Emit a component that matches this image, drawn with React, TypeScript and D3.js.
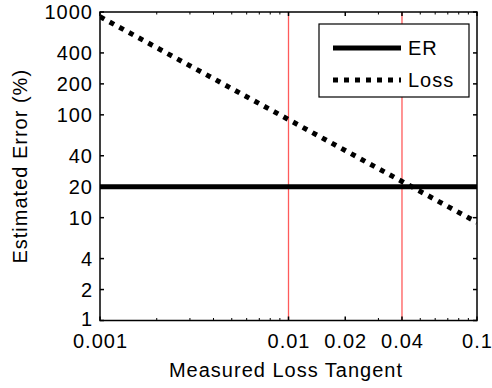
import React from "react";
import * as d3 from "d3";

const lossTangent = [0.001, 0.002, 0.004, 0.01, 0.02, 0.04, 0.1];
const lossError = [900, 450, 225, 90, 45, 22.5, 9];
const erError = [20, 20, 20, 20, 20, 20, 20];
const xTicks = [0.001, 0.01, 0.02, 0.04, 0.1];
const xTickLabels = ["0.001", "0.01", "0.02", "0.04", "0.1"];
const xMinor = [0.002, 0.003, 0.004, 0.005, 0.006, 0.007, 0.008, 0.009, 0.03, 0.05, 0.06, 0.07, 0.08, 0.09];
const yTicks = [1, 2, 4, 10, 20, 40, 100, 200, 400, 1000];
const redLines = [0.01, 0.04];
const legendNames = ["ER", "Loss"];

const W = 492, H = 388;
const L = 100, R = 477, T = 12, B = 320.5;
const font = "'Liberation Sans', Arial, sans-serif";
const ls = 1;

export default function App() {
  const x = d3.scaleLog().domain([0.001, 0.1]).range([L, R]);
  const y = d3.scaleLog().domain([1, 1000]).range([B, T]);
  const line = d3.line<number>().x((_, i) => x(lossTangent[i])).y((d) => y(d));
  const tk = 4;
  const txt = { fontFamily: font, fontSize: 20, letterSpacing: ls } as const;
  return (
    <svg width={W} height={H} style={{ position: "absolute", left: 0, top: 0, background: "#fff" }}>
      <defs>
        <clipPath id="pc"><rect x={L} y={T} width={R - L} height={B - T} /></clipPath>
      </defs>
      {redLines.map((v) => (
        <line key={v} x1={x(v)} x2={x(v)} y1={T} y2={B} stroke="#ff5a5a" strokeWidth={1.3} />
      ))}
      <g clipPath="url(#pc)">
        <path d={line(erError) || ""} fill="none" stroke="#000" strokeWidth={5} />
        <path d={line(lossError) || ""} fill="none" stroke="#000" strokeWidth={5} strokeDasharray="5 6" />
      </g>
      <rect x={L} y={T} width={R - L} height={B - T} fill="none" stroke="#000" strokeWidth={1.5} />
      {xTicks.map((v) => (
        <g key={"xt" + v}>
          <line x1={x(v)} x2={x(v)} y1={B} y2={B - tk} stroke="#000" strokeWidth={1.5} />
          <line x1={x(v)} x2={x(v)} y1={T} y2={T + tk} stroke="#000" strokeWidth={1.5} />
        </g>
      ))}
      {xMinor.map((v) => (
        <g key={"xm" + v}>
          <line x1={x(v)} x2={x(v)} y1={B} y2={B - 2.5} stroke="#000" strokeWidth={1} />
          <line x1={x(v)} x2={x(v)} y1={T} y2={T + 2.5} stroke="#000" strokeWidth={1} />
        </g>
      ))}
      {yTicks.map((v, i) => (
        <g key={"yt" + v}>
          <line x1={L} x2={L + tk} y1={y(v)} y2={y(v)} stroke="#000" strokeWidth={1.5} />
          <line x1={R} x2={R - tk} y1={y(v)} y2={y(v)} stroke="#000" strokeWidth={1.5} />
          <text x={L - 8 + ls} y={y(v) - (i === 0 ? 2 : 0)} textAnchor="end" dominantBaseline="central" {...txt}>{String(v)}</text>
        </g>
      ))}
      {xTicks.map((v, i) => (
        <text key={"xl" + v} x={x(v) + ls / 2} y={348} textAnchor="middle" {...txt}>{xTickLabels[i]}</text>
      ))}
      <text x={286} y={377} textAnchor="middle" {...txt}>Measured Loss Tangent</text>
      <text transform={`translate(27,${(T + B) / 2}) rotate(-90)`} textAnchor="middle" {...txt}>Estimated Error (%)</text>
      <rect x={319} y={24} width={150} height={73} fill="#fff" stroke="#000" strokeWidth={1.2} />
      <line x1={333} x2={401} y1={48} y2={48} stroke="#000" strokeWidth={5} />
      <line x1={333} x2={401} y1={80} y2={80} stroke="#000" strokeWidth={5} strokeDasharray="5 6" />
      <text x={408} y={48} dominantBaseline="central" {...txt}>{legendNames[0]}</text>
      <text x={408} y={80} dominantBaseline="central" {...txt}>{legendNames[1]}</text>
    </svg>
  );
}
